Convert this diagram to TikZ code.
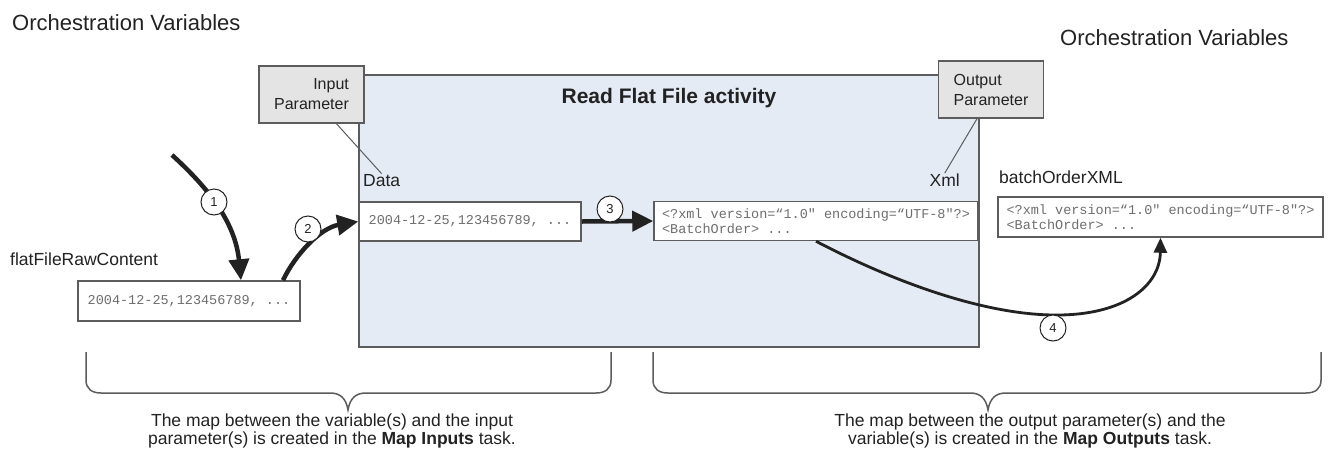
\documentclass[tikz,border=0pt]{standalone}
\usepackage{fontspec}
\setmainfont{Liberation Sans}
\setmonofont{Liberation Mono}
\usepackage{tikz}
\usetikzlibrary{arrows.meta,calc}
\definecolor{ink}{HTML}{222222}
\definecolor{edge}{HTML}{5C5C5C}
\definecolor{actfill}{HTML}{E5EBF5}
\definecolor{parfill}{HTML}{E4E4E4}
\definecolor{monotxt}{HTML}{6E6E6E}

\begin{document}
\begin{tikzpicture}[x=1pt,y=-1pt,
  text=ink,
  heading/.style={font=\fontsize{22}{26}\selectfont,inner sep=0pt},
  varlbl/.style={font=\fontsize{17.5}{20}\selectfont,inner sep=0pt},
  actbox/.style={draw=edge,line width=1.8pt,fill=actfill,minimum width=620pt,
              minimum height=272pt},
  parbox/.style={draw=edge,line width=1.5pt,fill=parfill,minimum width=105pt,
              minimum height=57pt,inner sep=0pt,font=\fontsize{16}{20}\selectfont},
  valbox/.style={draw=edge,line width=1.5pt,fill=white,inner sep=0pt,align=left,
              minimum height=39pt,text=monotxt,font=\fontsize{13.5}{15}\selectfont\ttfamily},
  flow/.style={-{Triangle[length=21pt,width=20pt]},line width=4.5pt,color=ink},
  flowthin/.style={-{Triangle[length=15pt,width=13pt]},line width=2.8pt,color=ink},
  callout/.style={draw=edge,line width=1pt},
  num/.style={circle,draw=ink,line width=1pt,fill=white,minimum size=26pt,
              inner sep=0pt,font=\fontsize{13}{13}\selectfont},
  brace/.style={draw=edge,line width=1.5pt},
  note/.style={align=center,inner sep=0pt,font=\fontsize{17.5}{17.5}\selectfont}]
  \useasboundingbox[fill=white] (0,0) rectangle (1332,453);
  % headings
  \node[heading,anchor=base west] (varsleft) at (12,30) {Orchestration Variables};
  \node[heading,anchor=base west] (varsright) at (1060,45) {Orchestration Variables};
  % the activity
  \node[actbox] (act) at (669,211) {};
  \node[heading,font=\fontsize{21}{25}\selectfont\bfseries,anchor=base] (acttitle)
       at (669,103) {Read Flat File activity};
  \node[parbox,align=right] (inparam) at (311.5,94.5) {Input\\Parameter};
  \node[parbox,align=left] (outparam) at (991,89.5) {Output\\Parameter};
  \node[varlbl,anchor=base west] (datalbl) at (363,186) {Data};
  \node[varlbl,anchor=base east] (xmllbl) at (960,186) {Xml};
  \draw[callout] ($(inparam.south)+(25,0)$) -- (datalbl.north);
  \draw[callout] ($(outparam.south)+(-14,0)$) -- (xmllbl.north);
  \node[valbox,minimum width=222pt] (databox) at (470,221.5) {2004-12-25,123456789, ...};
  \node[valbox,minimum width=324pt] (xmlbox) at (816,221)
       {<?xml version=“1.0" encoding=“UTF-8"?>\\<BatchOrder> ...};
  % variables
  \node[varlbl,anchor=base west] (flatlbl) at (10,265) {flatFileRawContent};
  \node[valbox,minimum width=222pt,minimum height=40pt] (flatbox) at (189,301)
       {2004-12-25,123456789, ...};
  \node[varlbl,anchor=base west] (batchlbl) at (999,183) {batchOrderXML};
  \node[valbox,minimum width=325pt,minimum height=40pt] (batchbox) at (1160.5,217)
       {<?xml version=“1.0" encoding=“UTF-8"?>\\<BatchOrder> ...};
  % steps
  \coordinate (feed) at (172,155);
  \draw[flow] (feed) .. controls (205,185) and (235,220) .. ($(flatbox.north)+(52,0)$);
  \draw[flow] ($(flatbox.north)+(94,0)$) .. controls (295,255) and (320,228) .. (databox.west);
  \draw[flow] (databox.east) -- (xmlbox.west);
  \draw[flowthin] (xmlbox.south) .. controls (890,280) and (980,314) .. (1053,315)
       .. controls (1125,316) and (1160,285) .. (batchbox.south);
  \node[num] (n1) at (214,202) {1};
  \node[num] (n2) at (308,229) {2};
  \node[num] (n3) at (610,209) {3};
  \node[num] (n4) at (1053,328) {4};
  % braces
  \draw[brace] (86,352) -- (86,380) .. controls (86,389) and (92,393) .. (101,393)
       -- (330,393) .. controls (340,393) and (346,398) .. (348,410)
       .. controls (350,398) and (356,393) .. (366,393) -- (596,393)
       .. controls (605,393) and (611,389) .. (611,380) -- (611,352);
  \draw[brace] (653,352) -- (653,380) .. controls (653,389) and (659,393) .. (668,393)
       -- (970,393) .. controls (980,393) and (986,398) .. (988,410)
       .. controls (990,398) and (996,393) .. (1006,393) -- (1306,393)
       .. controls (1315,393) and (1321,389) .. (1321,380) -- (1321,352);
  \node[note,anchor=base] (mapin) at (332,444)
       {The map between the variable(s) and the input\\parameter(s) is created in the \textbf{Map Inputs} task.};
  \node[note,anchor=base] (mapout) at (1030,444)
       {The map between the output parameter(s) and the\\variable(s) is created in the \textbf{Map Outputs} task.};
\end{tikzpicture}
\end{document}
